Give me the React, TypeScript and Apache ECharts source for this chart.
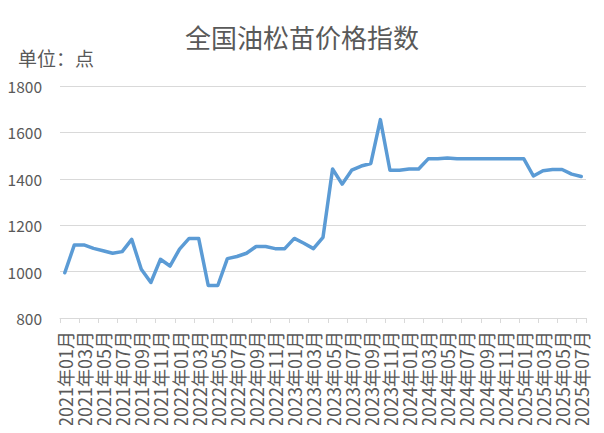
import React, { useEffect, useRef } from "react";
import * as echarts from "echarts";

const months: string[] = (() => {
  const out: string[] = [];
  for (let y = 2021; y <= 2025; y++) {
    for (let m = 1; m <= 12; m++) {
      if (y === 2025 && m > 7) break;
      out.push(`${y}年${m < 10 ? "0" + m : m}月`);
    }
  }
  return out;
})();

const priceIndex: number[] = [
  995, 1115, 1115, 1100, 1090, 1079, 1086, 1139, 1010, 953,
  1053, 1024, 1097, 1143, 1143, 940, 940, 1056, 1065, 1079,
  1108, 1108, 1099, 1099, 1143, 1122, 1099, 1148, 1442, 1377,
  1437, 1455, 1466, 1655, 1437, 1437, 1442, 1442, 1486, 1486,
  1490, 1486, 1486, 1486, 1486, 1486, 1486, 1486, 1486, 1412,
  1435, 1440, 1440, 1420, 1410,
];

const titleText = "全国油松苗价格指数";
const unitText = "单位：点";

export default function App() {
  const ref = useRef<HTMLDivElement>(null);
  useEffect(() => {
    if (!ref.current) return;
    const chart = echarts.init(ref.current, undefined, { renderer: "svg" });
    const font = "'Noto Sans CJK SC', 'Noto Sans', sans-serif";
    chart.setOption({
      animation: false,
      backgroundColor: "#ffffff",
      textStyle: { fontFamily: font },
      title: [
        {
          text: titleText,
          left: "center",
          top: 18,
          textStyle: { fontSize: 26, fontWeight: "normal", color: "#595959", fontFamily: font },
        },
        {
          text: unitText,
          left: 13,
          top: 43,
          textStyle: { fontSize: 19, fontWeight: "normal", color: "#595959", fontFamily: font },
        },
      ],
      grid: { left: 60, right: 18, top: 86, bottom: 115, containLabel: false },
      xAxis: {
        type: "category",
        data: months,
        boundaryGap: true,
        axisLine: { lineStyle: { color: "#D9D9D9", width: 1 } },
        axisTick: { show: true, interval: 1, alignWithLabel: false, length: 5, lineStyle: { color: "#D9D9D9" } },
        axisLabel: {
          interval: 1,
          rotate: 90,
          fontSize: 18,
          color: "#595959",
          margin: 13,
          fontFamily: font,
        },
      },
      yAxis: {
        type: "value",
        min: 800,
        max: 1800,
        interval: 200,
        axisLine: { show: false },
        axisTick: { show: false },
        splitLine: { lineStyle: { color: "#D9D9D9", width: 1 } },
        axisLabel: {
          fontSize: 15.5,
          color: "#595959",
          margin: 18,
          fontFamily: font,
          formatter: (v: number) => String(v),
        },
      },
      series: [
        {
          type: "line",
          data: priceIndex,
          showSymbol: false,
          symbol: "none",
          lineStyle: { color: "#5B9BD5", width: 3.5, join: "round", cap: "round" },
          itemStyle: { color: "#5B9BD5" },
        },
      ],
    });
    return () => chart.dispose();
  }, []);
  return <div ref={ref} style={{ width: 604, height: 433, margin: -8 }} />;
}
